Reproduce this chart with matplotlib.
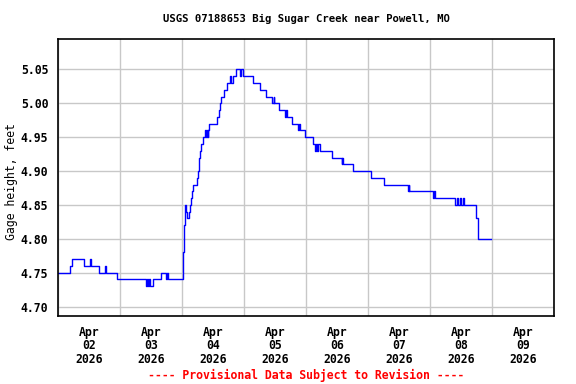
import numpy as np
import pandas as pd
import matplotlib
matplotlib.use("Agg")
import matplotlib.pyplot as plt
import matplotlib.dates as mdates

# Gage height readings (hours after 2026-04-02 00:00, feet), step changes only
hours = [0.0, 4.8, 5.5, 10.1, 12.3, 12.6, 16.0, 18.3, 18.6, 23.0,
         34.0, 34.6, 35.0, 35.3, 35.8, 36.6, 40.0, 41.8, 42.2, 42.6,
         48.4, 48.9, 49.3, 49.6, 49.8, 50.7, 51.1, 51.5, 52.0, 52.4,
         53.9, 54.1, 54.4, 54.6, 55.1, 55.5, 56.1, 56.8, 57.4, 57.6,
         57.9, 58.1, 58.4, 61.7, 62.2, 62.6, 63.2, 64.2, 65.3, 66.7,
         66.9, 67.6, 68.9, 70.4, 70.8, 71.7, 75.3, 78.2, 80.5, 82.9,
         83.6, 83.8, 85.7, 88.0, 88.2, 88.5, 90.5, 93.0, 93.3, 93.5,
         95.6, 98.6, 99.5, 99.8, 100.2, 100.5, 101.4, 105.9, 109.8, 110.1,
         110.4, 114.3, 121.0, 126.3, 135.4, 135.7, 136.0, 136.3, 145.0, 145.5,
         146.0, 146.6, 153.7, 154.3, 154.8, 155.5, 156.1, 156.8, 157.2, 161.8,
         162.4, 162.7, 167.5]
stage = [4.75, 4.76, 4.77, 4.76, 4.77, 4.76, 4.75, 4.76, 4.75, 4.74,
         4.73, 4.74, 4.73, 4.74, 4.73, 4.74, 4.75, 4.74, 4.75, 4.74,
         4.78, 4.82, 4.85, 4.84, 4.83, 4.84, 4.85, 4.86, 4.87, 4.88,
         4.89, 4.90, 4.91, 4.92, 4.93, 4.94, 4.95, 4.96, 4.95, 4.96,
         4.95, 4.96, 4.97, 4.98, 4.99, 5.00, 5.01, 5.02, 5.03, 5.04,
         5.03, 5.04, 5.05, 5.04, 5.05, 5.04, 5.03, 5.02, 5.01, 5.00,
         5.01, 5.00, 4.99, 4.98, 4.99, 4.98, 4.97, 4.96, 4.97, 4.96,
         4.95, 4.94, 4.93, 4.94, 4.93, 4.94, 4.93, 4.92, 4.91, 4.92,
         4.91, 4.90, 4.89, 4.88, 4.87, 4.88, 4.87, 4.87, 4.86, 4.87,
         4.86, 4.86, 4.85, 4.86, 4.85, 4.86, 4.85, 4.86, 4.85, 4.83,
         4.81, 4.80, 4.80]

y_ticks = [4.70, 4.75, 4.80, 4.85, 4.90, 4.95, 5.00, 5.05]
start = pd.Timestamp("2026-04-02")
n_days = 8

t = start + pd.to_timedelta(hours, unit="h")

plt.rcParams['font.family'] = ['DejaVu Sans Mono']
plt.rcParams['font.weight'] = 'bold'

fig = plt.figure(figsize=(5.76, 3.84), dpi=100)
ax = fig.add_axes([58/576, 1-316/384, (554-58)/576, (316-39)/384])

ax.plot(t, stage, drawstyle='steps-post', color='#0000ff', linewidth=1.0)

ax.set_xlim(start, start + pd.Timedelta(days=n_days))
ax.set_ylim(4.686, 5.095)

# gridlines at midnight, labels at noon
days = [start + pd.Timedelta(days=i) for i in range(n_days + 1)]
noons = [start + pd.Timedelta(days=i, hours=12) for i in range(n_days)]
ax.set_xticks(days)
ax.set_xticklabels([])
ax.set_xticks(noons, minor=True)
ax.set_xticklabels([d.strftime("%b\n%d\n%Y") for d in noons], minor=True,
                   fontsize=8.3, linespacing=1.05)
ax.tick_params(axis='x', which='both', length=0, pad=7)

ax.set_yticks(y_ticks)
ax.set_yticklabels([f"{v:.2f}" for v in y_ticks], fontsize=8.3)
ax.tick_params(axis='y', length=0, pad=7)

ax.grid(True, which='major', color='#c8c8c8', linewidth=1.0)
ax.set_axisbelow(True)
for s in ax.spines.values():
    s.set_linewidth(1.2)

ax.set_ylabel("Gage height, feet", fontsize=8.3)
ax.yaxis.set_label_coords(-40/496, 0.484)
fig.text(306/576, 1-19/384, "USGS 07188653 Big Sugar Creek near Powell, MO",
         ha='center', va='center', fontsize=7.7)
fig.text(306/576, 1-375/384, "---- Provisional Data Subject to Revision ----",
         ha='center', va='center', fontsize=8.3, color='#ff0000')

fig.savefig("out.png", dpi=100)
